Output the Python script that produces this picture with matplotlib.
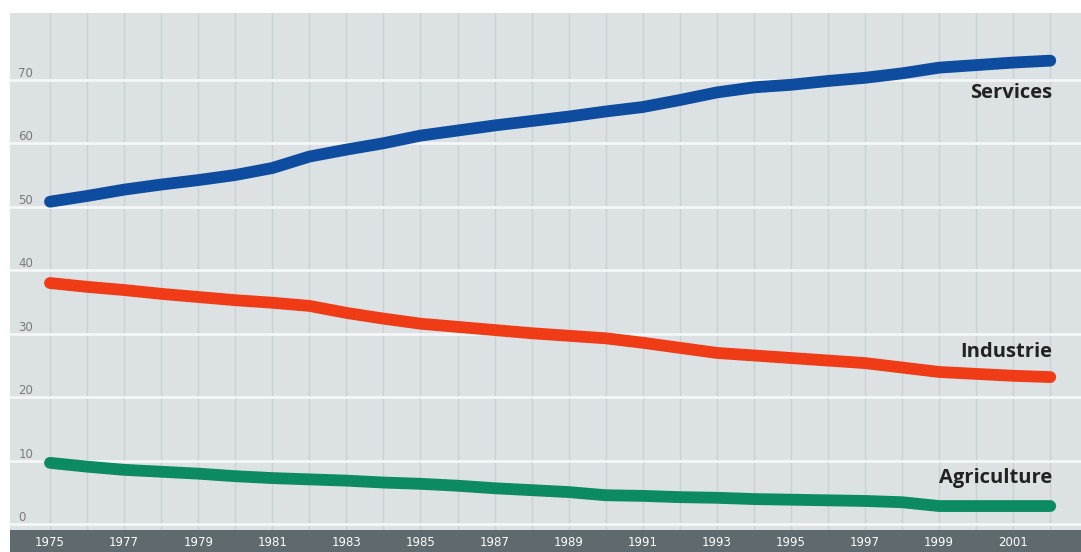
import numpy as np
import matplotlib.pyplot as plt

years = [1975, 1976, 1977, 1978, 1979, 1980, 1981, 1982, 1983, 1984, 1985, 1986, 1987, 1988,
         1989, 1990, 1991, 1992, 1993, 1994, 1995, 1996, 1997, 1998, 1999, 2000, 2001, 2002]
services = [50.8, 51.7, 52.7, 53.5, 54.2, 55.0, 56.1, 57.9, 59.0, 60.0, 61.2, 62.0, 62.8, 63.5,
            64.2, 65.0, 65.7, 66.8, 68.0, 68.8, 69.2, 69.8, 70.3, 71.0, 71.9, 72.3, 72.7, 73.0]
industrie = [38.0, 37.4, 36.9, 36.3, 35.8, 35.3, 34.9, 34.4, 33.3, 32.4, 31.6, 31.1, 30.6, 30.1,
             29.7, 29.3, 28.6, 27.8, 27.0, 26.6, 26.2, 25.8, 25.4, 24.7, 24.0, 23.7, 23.4, 23.2]
agriculture = [9.7, 9.1, 8.6, 8.3, 8.0, 7.6, 7.3, 7.1, 6.9, 6.6, 6.4, 6.1, 5.7, 5.4,
               5.1, 4.6, 4.5, 4.3, 4.2, 4.0, 3.9, 3.8, 3.7, 3.5, 2.9, 2.9, 2.9, 2.9]
y_ticks = [0, 10, 20, 30, 40, 50, 60, 70]
x_labels = list(range(1975, 2002, 2))

fig = plt.figure(figsize=(10.81, 5.52), dpi=100)
fig.patch.set_facecolor("white")

left = 10 / 1081
xlim = (1973.92, 2002.83)
ax = fig.add_axes([left, 22 / 552, 1 - left, (530 - 13) / 552])
ax.set_facecolor("#dce1e4")
ax.set_xlim(*xlim)
ax.set_ylim(-0.87, 80.5)

for yr in years:
    ax.axvline(yr, color="#cad1d4", lw=1.0, zorder=1)
for v in y_ticks:
    ax.axhline(v, color="#f4f6f7", lw=2.0, zorder=2)

ax.plot(years, services, color="#0d4c9e", lw=8.5, solid_capstyle="round",
        solid_joinstyle="round", zorder=3)
ax.plot(years, industrie, color="#ef3b16", lw=8.5, solid_capstyle="round",
        solid_joinstyle="round", zorder=3)
ax.plot(years, agriculture, color="#0b8a63", lw=8.5, solid_capstyle="round",
        solid_joinstyle="round", zorder=3)

lab = dict(ha="right", va="center", fontsize=14.5, fontweight="bold", color="#222222",
           family="Open Sans", zorder=4)
ax.text(2002.05, 67.9, "Services", **lab)
ax.text(2002.05, 27.2, "Industrie", **lab)
ax.text(2002.05, 7.3, "Agriculture", **lab)

ax.set_yticks(y_ticks)
ax.set_yticklabels([str(v) for v in y_ticks])
ax.tick_params(axis="y", length=0, pad=-6, labelsize=8.5, labelcolor="#7a7a7a")
for t in ax.get_yticklabels():
    t.set_ha("left")
    t.set_va("bottom")
ax.set_xticks([])
for s in ax.spines.values():
    s.set_visible(False)

strip = fig.add_axes([left, 0, 1 - left, 22 / 552])
strip.set_facecolor("#5e6a6d")
strip.set_xlim(*xlim)
strip.set_yticks([])
strip.set_xticks(x_labels)
strip.set_xticklabels([str(y) for y in x_labels])
strip.tick_params(axis="x", length=0, pad=-2, labelsize=8.5, labelcolor="white")
for t in strip.get_xticklabels():
    t.set_va("bottom")
for s in strip.spines.values():
    s.set_visible(False)

fig.savefig("out.png", dpi=100)
